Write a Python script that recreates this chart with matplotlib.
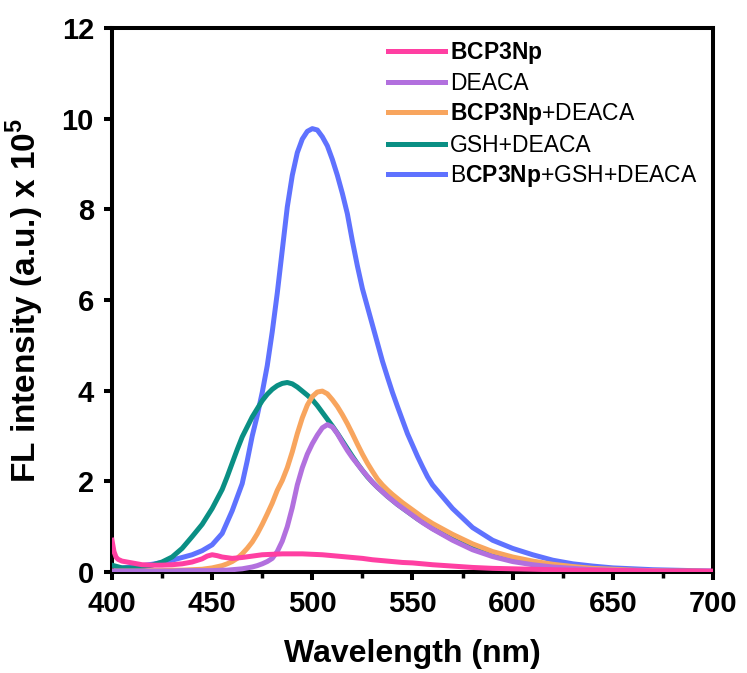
import matplotlib
matplotlib.use("Agg")
import matplotlib.pyplot as plt
from matplotlib import font_manager
from matplotlib.ticker import MultipleLocator

plt.rcParams['font.family'] = ['Liberation Sans', 'DejaVu Sans']
plt.rcParams['mathtext.fontset'] = 'custom'
plt.rcParams['mathtext.rm'] = 'Liberation Sans'
plt.rcParams['mathtext.bf'] = 'Liberation Sans:bold'

# tick numbers in the original look like a narrow Arial
installed = {f.name for f in font_manager.fontManager.ttflist}
tick_font = 'Liberation Sans Narrow' if 'Liberation Sans Narrow' in installed else 'Liberation Sans'
tick_size = 25 if tick_font == 'Liberation Sans Narrow' else 21

# shared wavelength grid (nm)
wavelength = [400, 405, 410, 415, 420, 425, 430, 435, 440, 445, 450, 455,
              457.5, 460, 462.5, 465, 467.5, 470, 472.5, 475, 477.5, 480, 482.5, 485,
              487.5, 490, 492.5, 495, 497.5, 500, 502.5, 505, 507.5, 510, 512.5, 515,
              517.5, 520, 522.5, 525, 527.5, 530, 532.5, 535, 537.5, 540, 542.5, 545,
              547.5, 550, 552.5, 555, 557.5, 560,
              570, 580, 590, 600, 610, 620, 630, 640, 650, 660, 670, 680, 690, 700]

bcp_gsh_deaca = [0.08, 0.09, 0.11, 0.14, 0.17, 0.21, 0.26, 0.32, 0.38, 0.47, 0.60, 0.85,
                 1.10, 1.35, 1.65, 1.95, 2.45, 3.00, 3.45, 3.96, 4.55, 5.30, 6.15, 7.10,
                 8.05, 8.75, 9.25, 9.55, 9.72, 9.78, 9.75, 9.60, 9.40, 9.10, 8.75, 8.35,
                 7.90, 7.30, 6.75, 6.25, 5.85, 5.45, 5.05, 4.65, 4.30, 3.96, 3.65, 3.35,
                 3.05, 2.80, 2.55, 2.32, 2.10, 1.92,
                 1.40, 0.98, 0.70, 0.52, 0.38, 0.26, 0.18, 0.13, 0.09, 0.07, 0.05, 0.04, 0.03, 0.02]

gsh_deaca = [0.15, 0.09, 0.09, 0.11, 0.15, 0.22, 0.33, 0.52, 0.78, 1.05, 1.40, 1.82,
             2.10, 2.40, 2.70, 2.98, 3.20, 3.42, 3.60, 3.78, 3.92, 4.03, 4.11, 4.16,
             4.18, 4.15, 4.08, 3.99, 3.90, 3.80, 3.67, 3.52, 3.37, 3.22, 3.06, 2.89,
             2.72, 2.55, 2.39, 2.24, 2.10, 1.98, 1.87, 1.77, 1.67, 1.58, 1.49, 1.41,
             1.33, 1.25, 1.17, 1.10, 1.03, 0.96,
             0.72, 0.53, 0.38, 0.27, 0.19, 0.13, 0.09, 0.06, 0.04, 0.03, 0.02, 0.02, 0.01, 0.01]

bcp_deaca = [0.02, 0.02, 0.02, 0.02, 0.03, 0.03, 0.04, 0.04, 0.05, 0.06, 0.09, 0.14,
             0.18, 0.23, 0.30, 0.40, 0.52, 0.66, 0.84, 1.05, 1.28, 1.52, 1.80, 2.02,
             2.30, 2.65, 3.05, 3.40, 3.68, 3.87, 3.97, 3.99, 3.93, 3.80, 3.65, 3.47,
             3.27, 3.05, 2.82, 2.60, 2.40, 2.22, 2.05, 1.92, 1.81, 1.71, 1.62, 1.53,
             1.45, 1.37, 1.29, 1.21, 1.14, 1.07,
             0.83, 0.62, 0.45, 0.33, 0.24, 0.17, 0.12, 0.08, 0.06, 0.04, 0.03, 0.02, 0.02, 0.01]

deaca = [0.02, 0.02, 0.02, 0.02, 0.02, 0.02, 0.02, 0.03, 0.03, 0.03, 0.03, 0.04,
         0.04, 0.05, 0.06, 0.07, 0.09, 0.11, 0.14, 0.18, 0.23, 0.30, 0.45, 0.68,
         1.00, 1.42, 1.92, 2.30, 2.60, 2.83, 3.02, 3.18, 3.25, 3.20, 3.05, 2.86,
         2.68, 2.52, 2.38, 2.24, 2.11, 1.98, 1.87, 1.77, 1.67, 1.58, 1.49, 1.41,
         1.33, 1.25, 1.17, 1.09, 1.02, 0.95,
         0.70, 0.49, 0.34, 0.23, 0.16, 0.11, 0.08, 0.05, 0.04, 0.03, 0.02, 0.02, 0.01, 0.01]

# BCP3Np alone has its own, denser start
wl_bcp = [400, 401, 402, 403, 405, 410, 415, 420, 425, 430, 435, 440, 445, 447.5, 450,
          452.5, 455, 460, 465, 470, 475, 480, 485, 490, 495, 500, 505, 510, 515, 520,
          525, 530, 535, 540, 545, 550, 555, 560, 570, 580, 590, 600, 610, 620, 630,
          640, 650, 660, 670, 680, 690, 700]
bcp3np = [0.70, 0.45, 0.33, 0.28, 0.24, 0.20, 0.16, 0.15, 0.15, 0.16, 0.18, 0.22, 0.29,
          0.35, 0.38, 0.36, 0.33, 0.30, 0.32, 0.35, 0.38, 0.39, 0.40, 0.40, 0.40, 0.39,
          0.38, 0.36, 0.34, 0.32, 0.30, 0.27, 0.25, 0.23, 0.21, 0.20, 0.18, 0.16, 0.13,
          0.10, 0.08, 0.07, 0.06, 0.05, 0.04, 0.04, 0.03, 0.03, 0.02, 0.02, 0.02, 0.02]

labels = [r"$\mathbf{BCP3Np}$", "DEACA", r"$\mathbf{BCP3Np}$+DEACA", "GSH+DEACA",
          r"B$\mathbf{CP3Np}$+GSH+DEACA"]
colors = ["#ff3fa2", "#b270de", "#f8a55e", "#0a8f84", "#5f72ff"]

fig = plt.figure(figsize=(7.47, 6.73), dpi=100)
ax = fig.add_axes([0.1499, 0.1501, 0.8046, 0.8083])

lw = 3.6
ax.plot(wavelength, bcp_gsh_deaca, color=colors[4], lw=lw, label=labels[4], zorder=2)
ax.plot(wavelength, gsh_deaca, color=colors[3], lw=lw, label=labels[3], zorder=3)
ax.plot(wavelength, bcp_deaca, color=colors[2], lw=lw, label=labels[2], zorder=4)
ax.plot(wavelength, deaca, color=colors[1], lw=lw, label=labels[1], zorder=5)
ax.plot(wl_bcp, bcp3np, color=colors[0], lw=lw, label=labels[0], zorder=6)

ax.set_xlim(400, 700)
ax.set_ylim(0, 12)
ax.xaxis.set_major_locator(MultipleLocator(50))
ax.xaxis.set_minor_locator(MultipleLocator(25))
ax.yaxis.set_major_locator(MultipleLocator(2))

for s in ax.spines.values():
    s.set_linewidth(2.9)
ax.tick_params(which='major', direction='out', length=6, width=2.9, pad=7)
ax.tick_params(which='minor', direction='out', length=4, width=2.5)
for t in ax.get_xticklabels() + ax.get_yticklabels():
    t.set_fontfamily(tick_font)
    t.set_fontsize(tick_size)
    t.set_fontweight('bold')

ax.set_xlabel("Wavelength (nm)", fontsize=23, fontweight='bold', labelpad=15)
ax.set_ylabel(r"FL intensity (a.u.) x 10$^\mathbf{5}$", fontsize=24, fontweight='bold', labelpad=11)

handles, labs = ax.get_legend_handles_labels()
order = [4, 3, 2, 1, 0]
ax.legend([handles[i] for i in order], [labs[i] for i in order], frameon=False,
          loc='upper left', bbox_to_anchor=(0.459, 0.978), fontsize=16.5,
          handlelength=2.5, handletextpad=0.22, labelspacing=0.27,
          borderpad=0, borderaxespad=0)

fig.savefig("out.png", dpi=100)
